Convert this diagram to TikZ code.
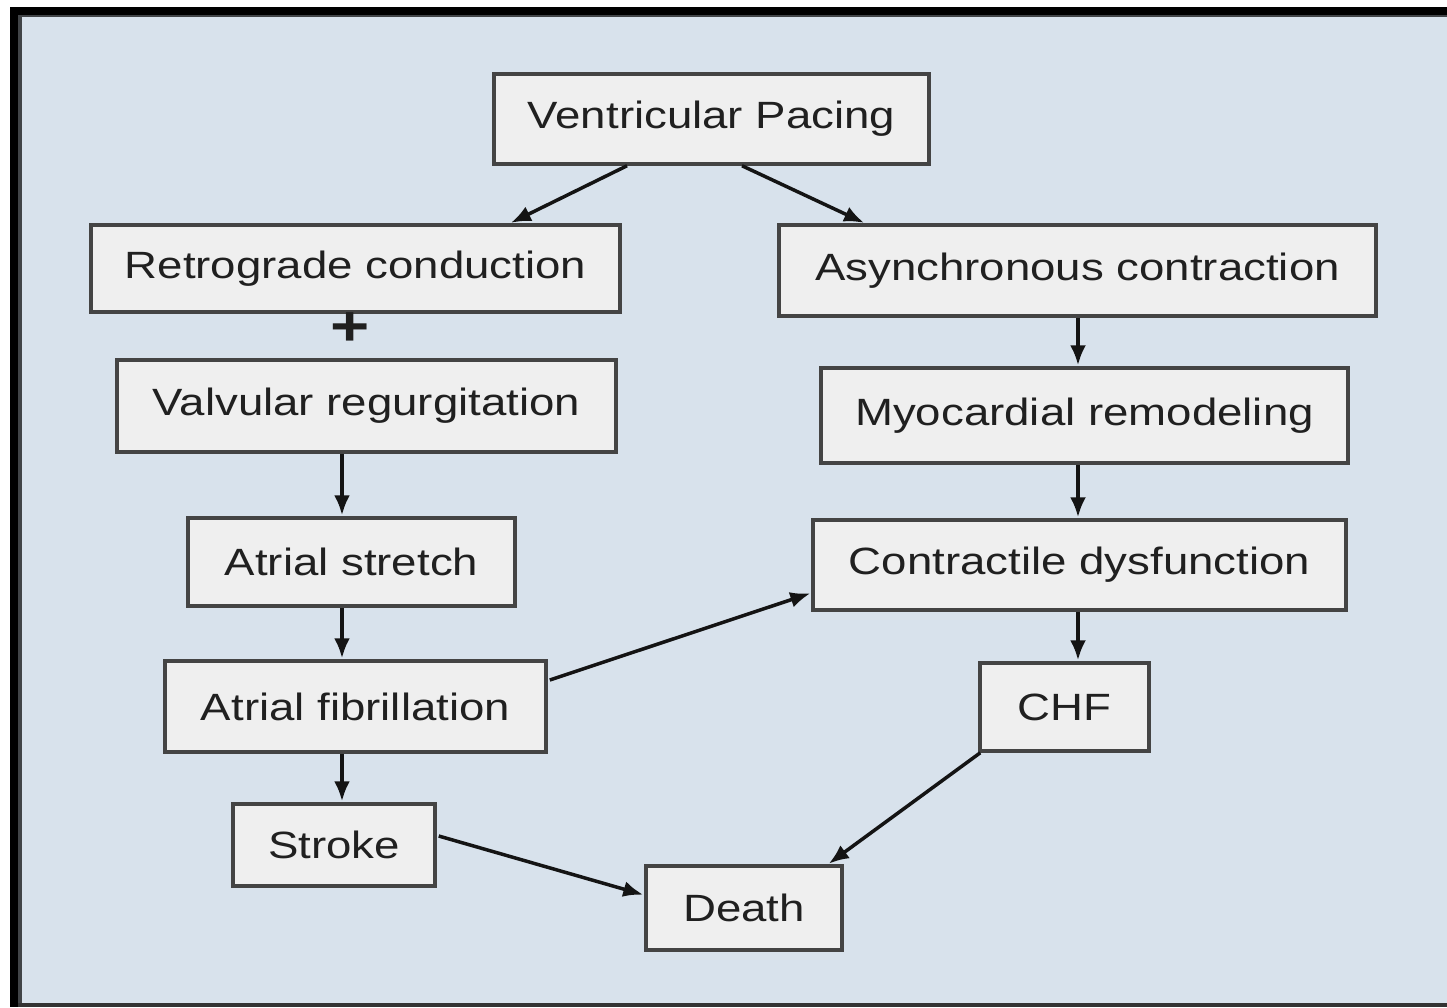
\documentclass[tikz,border=0pt]{standalone}
\usepackage{fontspec}
\setmainfont{Liberation Sans}[FakeStretch=1.2]
\usetikzlibrary{arrows.meta,calc}
\definecolor{bgblue}{HTML}{D8E2EC}
\definecolor{boxfill}{HTML}{EFEFEF}
\definecolor{boxline}{HTML}{444444}
\definecolor{txt}{HTML}{202020}
\tikzset{
  box/.style={draw=boxline, fill=boxfill, line width=3.5pt, inner sep=0pt,
    text=txt, font=\fontsize{38}{44}\selectfont},
  arr/.style={draw=black!92, line width=3.5pt,
    -{Latex[length=20pt,width=16pt]}, shorten >=1pt}
}
\begin{document}
\begin{tikzpicture}[x=1pt,y=-1pt]
\useasboundingbox (0,0) rectangle (1447,1007);
% frame
\fill[white] (0,0) rectangle (1447,1007);
\fill[bgblue] (18,15) rectangle (1447,1004);
\fill[black] (10,7) rectangle (1447,15);
\fill[black] (10,7) rectangle (18,1007);
\fill[black!70!bgblue] (18,15) rectangle (1447,17);
\fill[black!70!bgblue] (18,15) rectangle (22,1004);
\fill[black!80] (18,1003) rectangle (1447,1007);
% nodes
\node[box, minimum width=435, minimum height=90] (vp) at (711.5,119) {Ventricular Pacing};
\node[box, minimum width=529, minimum height=87] (retro) at (355.5,268.5) {Retrograde conduction};
\node[box, minimum width=597, minimum height=91] (async) at (1077.5,270.5) {Asynchronous contraction};
\node[text=txt, font=\fontsize{56}{56}\selectfont\bfseries, inner sep=0pt] (plus) at (350,329) {+};
\node[box, minimum width=499, minimum height=92] (valv) at (366.5,406) {Valvular regurgitation};
\node[box, minimum width=527, minimum height=95] (myo) at (1084.5,415.5) {Myocardial remodeling};
\node[box, minimum width=327, minimum height=88] (stretch) at (351.5,562) {Atrial stretch};
\node[box, minimum width=533, minimum height=90] (contract) at (1079.5,565) {Contractile dysfunction};
\node[box, minimum width=381, minimum height=91] (af) at (355.5,706.5) {Atrial fibrillation};
\node[box, minimum width=169, minimum height=88] (chf) at (1064.5,707) {CHF};
\node[box, minimum width=202, minimum height=82] (stroke) at (334,845) {Stroke};
\node[box, minimum width=196, minimum height=84] (death) at (744,908) {Death};
% column guides
\coordinate (lcol) at (342,0);
\coordinate (rcol) at (1078,0);
% connectors
\draw[arr] ($(vp.south)+(-84.5,0)$) -- ($(retro.north)+(154.5,0)$);
\draw[arr] ($(vp.south)+(30.5,0)$) -- ($(async.north)+(-212.5,0)$);
\draw[arr] (async.south -| rcol) -- (myo.north -| rcol);
\draw[arr] (myo.south -| rcol) -- (contract.north -| rcol);
\draw[arr] (contract.south -| rcol) -- (chf.north -| rcol);
\draw[arr] (valv.south -| lcol) -- (stretch.north -| lcol);
\draw[arr] (stretch.south -| lcol) -- (af.north -| lcol);
\draw[arr] (af.south -| lcol) -- (stroke.north -| lcol);
\draw[arr] ($(af.east)+(2,-26.5)$) -- ($(contract.west)+(0,28)$);
\draw[arr] ($(stroke.east)+(2,-9)$) -- ($(death.west)+(0,-13)$);
\draw[arr] ($(chf.south west)+(2,0)$) -- ($(death.north)+(84,0)$);
\end{tikzpicture}
\end{document}
